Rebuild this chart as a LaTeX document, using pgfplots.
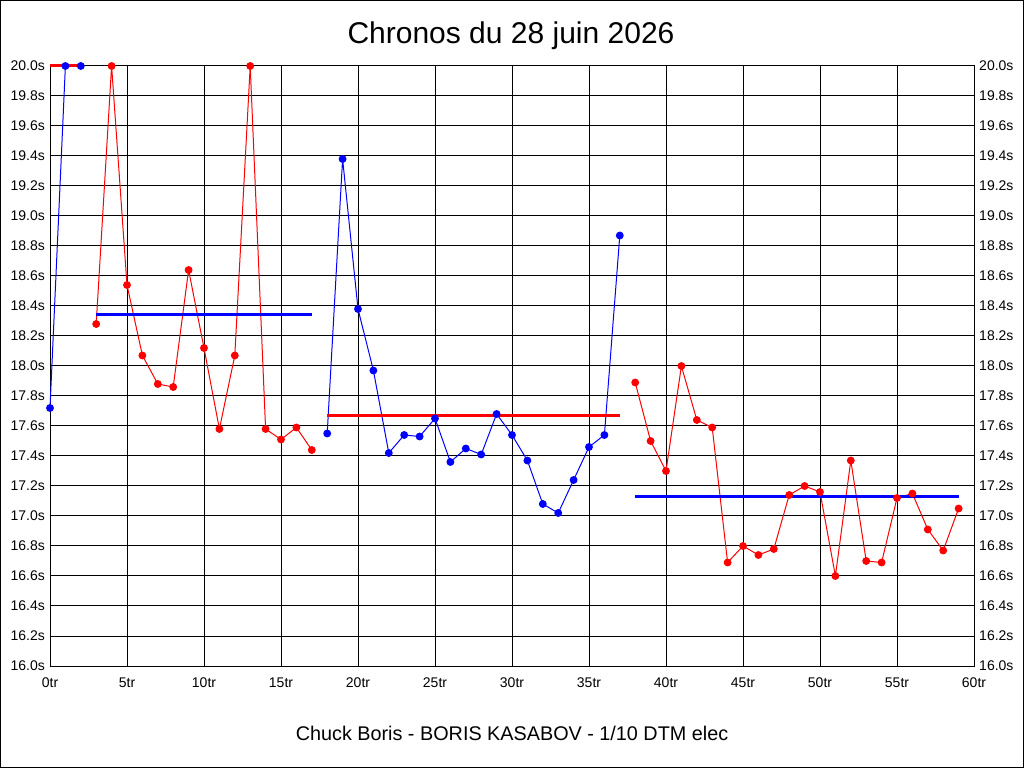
\documentclass[border=0pt]{standalone}
\usepackage{fontspec}
\setmainfont{Liberation Sans}
\usepackage{pgfplots}
\pgfplotsset{compat=1.18}
\definecolor{pblue}{RGB}{0,0,255}
\definecolor{pred}{RGB}{255,0,0}
\begin{document}
\begin{tikzpicture}
\useasboundingbox (0pt,0pt) rectangle (1024pt,768pt);
\draw[line width=1pt] (0.5pt,0.5pt) rectangle (1023.5pt,767.5pt);
\pgfplotsset{
  base/.style={
    at={(50pt,102pt)}, anchor=south west, scale only axis,
    width=924pt, height=600pt,
    xmin=0, xmax=60, ymin=16, ymax=20,
    xtick={0,5,10,15,20,25,30,35,40,45,50,55,60},
    ytick={16,16.2,16.4,16.6,16.8,17,17.2,17.4,17.6,17.8,18,18.2,18.4,18.6,18.8,19,19.2,19.4,19.6,19.8,20},
    major tick length=0pt,
    axis line style={line width=1pt, black},
    /pgf/number format/assume math mode=true,
    tick label style={font=\fontsize{14}{16}\selectfont, inner sep=0pt},
    yticklabel={\pgfmathprintnumber[fixed,fixed zerofill,precision=1]{\tick}s},
  }
}
\begin{axis}[base,
  grid=major, grid style={black, line width=1pt},
  xticklabel={\pgfmathprintnumber{\tick}tr},
  xticklabel style={yshift=-12pt},
  yticklabel style={xshift=-5pt},
  clip=false,
  every axis plot/.append style={line width=1pt, mark=*, mark size=3.4pt},
]
\addplot[pblue, mark options={fill=pblue, draw=pblue}] coordinates {
(0,17.72) (1,20.0) (2,20.0)};
\addplot[pred, mark options={fill=pred, draw=pred}] coordinates {
(3,18.28) (4,20.0) (5,18.54) (6,18.07) (7,17.88) (8,17.86) (9,18.64) (10,18.12)
(11,17.58) (12,18.07) (13,20.0) (14,17.58) (15,17.51) (16,17.59) (17,17.44)};
\addplot[pblue, mark options={fill=pblue, draw=pblue}] coordinates {
(18,17.55) (19,19.38) (20,18.38) (21,17.97) (22,17.42) (23,17.54) (24,17.53)
(25,17.65) (26,17.36) (27,17.45) (28,17.41) (29,17.68) (30,17.54) (31,17.37)
(32,17.08) (33,17.02) (34,17.24) (35,17.46) (36,17.54) (37,18.87)};
\addplot[pred, mark options={fill=pred, draw=pred}] coordinates {
(38,17.89) (39,17.50) (40,17.30) (41,18.00) (42,17.64) (43,17.59) (44,16.69)
(45,16.80) (46,16.74) (47,16.78) (48,17.14) (49,17.20) (50,17.16) (51,16.60)
(52,17.37) (53,16.70) (54,16.69) (55,17.12) (56,17.15) (57,16.91) (58,16.77)
(59,17.05)};
% averages
\addplot[pred, line width=3pt, mark=none] coordinates {(0,20.0) (2,20.0)};
\addplot[pblue, line width=3pt, mark=none] coordinates {(3,18.34) (17,18.34)};
\addplot[pred, line width=3pt, mark=none] coordinates {(18,17.67) (37,17.67)};
\addplot[pblue, line width=3pt, mark=none] coordinates {(38,17.13) (59,17.13)};
\end{axis}
\begin{axis}[base,
  axis y line*=right, axis x line=none,
  yticklabel style={xshift=5pt},
]
\end{axis}
\node[anchor=base, font=\fontsize{30}{34}\selectfont, inner sep=0pt] at (511pt,724.7pt) {Chronos du 28 juin 2026};
\node[anchor=base, font=\fontsize{19.8}{23}\selectfont, inner sep=0pt] at (512pt,28pt) {Chuck Boris - BORIS KASABOV - 1/10 DTM elec};
\end{tikzpicture}
\end{document}
